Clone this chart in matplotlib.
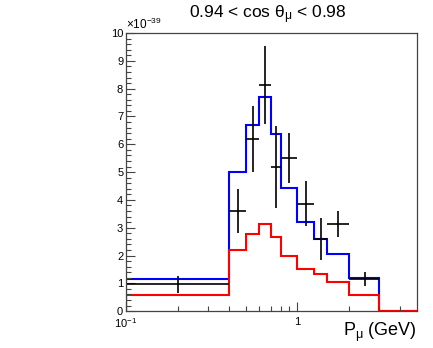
import numpy as np
import matplotlib.pyplot as plt
from matplotlib.ticker import FixedLocator, NullFormatter

plt.rcParams['font.family'] = ['Liberation Sans', 'DejaVu Sans']
plt.rcParams['mathtext.fontset'] = 'custom'
plt.rcParams['mathtext.rm'] = 'Liberation Sans'
plt.rcParams['mathtext.it'] = 'Liberation Sans'

# bin edges in P_mu (GeV)
edges = [0.1, 0.4, 0.5, 0.6, 0.7, 0.8, 1.0, 1.25, 1.5, 2.0, 3.0, 5.0]

# predictions (x 1e-39)
blue = [1.15, 5.0, 6.7, 7.69, 6.36, 4.44, 3.21, 2.61, 2.04, 1.18, 0.0]
red = [0.58, 2.19, 2.79, 3.13, 2.67, 1.98, 1.53, 1.33, 1.03, 0.58, 0.0]

# data points
x_pts = [0.2, 0.45, 0.55, 0.65, 0.75, 0.9, 1.12, 1.37, 1.73, 2.5]
x_lo = [0.1, 0.4, 0.5, 0.6, 0.7, 0.8, 1.0, 1.25, 1.5, 2.0]
x_hi = [0.4, 0.5, 0.6, 0.7, 0.8, 1.0, 1.25, 1.5, 2.0, 3.0]
y_pts = [0.96, 3.6, 6.18, 8.13, 5.17, 5.51, 3.87, 2.59, 3.12, 1.16]
y_err = [0.3, 0.78, 1.18, 1.4, 1.47, 0.9, 0.8, 0.76, 0.47, 0.24]

fig = plt.figure(figsize=(4.33, 3.48), dpi=100)
ax = fig.add_axes([0.291, 0.106, 0.672, 0.799])

ax.stairs(blue, edges, color='#0000ff', lw=1.5, baseline=0)
ax.stairs(red, edges, color='#ff0000', lw=1.5, baseline=0)

xp = np.array(x_pts)
xerr = [xp - np.array(x_lo), np.array(x_hi) - xp]
ax.errorbar(x_pts, y_pts, xerr=xerr, yerr=y_err, fmt='none',
            ecolor='black', elinewidth=1.2, capsize=0)

ax.set_xscale('log')
ax.set_xlim(0.1, 5.0)
ax.set_ylim(0, 10)

ax.xaxis.set_major_locator(FixedLocator([0.1, 1.0]))
ax.set_xticklabels(['$10^{-1}$', '1'])
ax.xaxis.set_minor_locator(FixedLocator([0.2, 0.3, 0.4, 0.5, 0.6, 0.7, 0.8, 0.9, 2, 3, 4]))
ax.xaxis.set_minor_formatter(NullFormatter())
ax.set_yticks(np.arange(0, 11, 1))
ax.set_yticks(np.arange(0, 10.01, 0.2), minor=True)
ax.set_yticklabels([str(i) for i in range(11)])

ax.tick_params(which='both', direction='in', top=False, right=False,
               labelsize=8, color='#444444', pad=2)
ax.tick_params(axis='x', which='major', pad=4)
ax.tick_params(which='major', length=6.3, width=0.8)
ax.tick_params(which='minor', length=3.4, width=0.8)
for s in ax.spines.values():
    s.set_color('#444444')
    s.set_linewidth(0.9)

ax.text(0.0, 1.003, r'$\times10^{-39}$', transform=ax.transAxes,
        fontsize=8.5, ha='left', va='bottom')
fig.text(0.618, 0.958, r'0.94 < cos $\theta_{\mu}$ < 0.98', fontsize=12.5,
         ha='center', va='center')
ax.text(1.0, -0.088, r'P$_{\mu}$ (GeV)', transform=ax.transAxes,
        fontsize=13, ha='right', va='baseline')

fig.savefig('out.png', dpi=100)
